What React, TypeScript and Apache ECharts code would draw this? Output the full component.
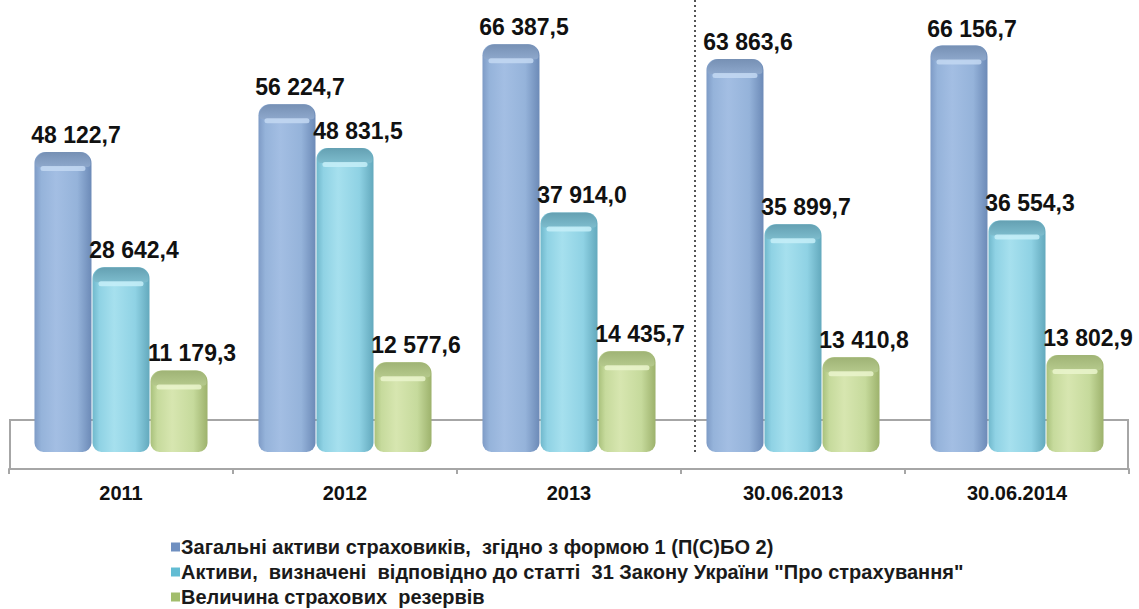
import React, { useEffect, useRef } from "react";
import * as echarts from "echarts";

const categories = ["2011", "2012", "2013", "30.06.2013", "30.06.2014"];
const seriesNames = [
  "Загальні активи страховиків,  згідно з формою 1 (П(С)БО 2)",
  "Активи,  визначені  відповідно до статті  31 Закону України \"Про страхування\"",
  "Величина страхових  резервів",
];
const totalAssets = [48122.7, 56224.7, 66387.5, 63863.6, 66156.7];
const art31Assets = [28642.4, 48831.5, 37914.0, 35899.7, 36554.3];
const reserves = [11179.3, 12577.6, 14435.7, 13410.8, 13802.9];

const palettes = [
  { legend: "#6f8fc0", edgeL: "#7e9bc6", mid: "#a3bee3", mid2: "#95b3da", edgeR: "#6c8ab7", capA: "#7690b4", capB: "#8ea8cc", hi: "#c3d8f2" },
  { legend: "#62bcd3", edgeL: "#70b8cc", mid: "#a6e0ee", mid2: "#8fd2e4", edgeR: "#63a9bd", capA: "#64a0b2", capB: "#7dbccd", hi: "#c6eef8" },
  { legend: "#a2bd6c", edgeL: "#a9c17c", mid: "#d7e6b0", mid2: "#c6da9c", edgeR: "#9db26c", capA: "#9fb375", capB: "#b5c98c", hi: "#eaf4cc" },
];

const fmt = (v: number) => {
  const [i, d] = v.toFixed(1).split(".");
  return i.replace(/\B(?=(\d{3})+(?!\d))/g, " ") + "," + d;
};

const makeSeries = (idx: number, values: number[]) => {
  const p = palettes[idx];
  return {
    type: "custom",
    name: seriesNames[idx],
    itemStyle: { color: p.legend },
    clip: false,
    z: 3,
    data: values.map((v, i) => [i, v]),
    renderItem: (params: any, api: any) => {
      const ci = api.value(0);
      const v = api.value(1);
      const top = api.coord([ci, v]);
      const zero = api.coord([ci, 0]);
      const band = api.size([1, 0])[0];
      const w = band * 0.2545;
      const cx = top[0] + (idx - 1) * band * 0.259;
      const x = cx - w / 2;
      const ty = top[1];
      const by = zero[1] + 15.5;
      const h = by - ty;
      const bodyGrad = new echarts.graphic.LinearGradient(0, 0, 1, 0, [
        { offset: 0, color: p.edgeL },
        { offset: 0.12, color: p.mid2 },
        { offset: 0.38, color: p.mid },
        { offset: 0.75, color: p.mid2 },
        { offset: 1, color: p.edgeR },
      ]);
      const capGrad = new echarts.graphic.LinearGradient(0, 0, 0, 1, [
        { offset: 0, color: p.capA },
        { offset: 1, color: p.capB },
      ]);
      return {
        type: "group",
        children: [
          {
            type: "rect",
            shape: { x, y: ty, width: w, height: h, r: [11, 11, 9, 9] },
            style: { fill: bodyGrad },
          },
          {
            type: "rect",
            shape: { x: x + 1, y: ty, width: w - 2, height: 15, r: [11, 11, 3, 3] },
            style: { fill: capGrad },
          },
          {
            type: "rect",
            shape: { x: x + 6, y: ty + 14, width: w - 12, height: 5, r: 2.5 },
            style: { fill: p.hi, opacity: 0.85 },
          },
          {
            type: "text",
            style: {
              text: fmt(v),
              x: cx + 13,
              y: ty - 17,
              align: "center",
              verticalAlign: "middle",
              fontFamily: "'Liberation Sans', Arial, sans-serif",
              fontWeight: "bold",
              fontSize: 23,
              fill: "#111111",
            },
          },
        ],
      };
    },
  };
};

export default function App() {
  const ref = useRef<HTMLDivElement>(null);
  useEffect(() => {
    if (!ref.current) return;
    const chart = echarts.init(ref.current, null, { renderer: "svg" });
    chart.setOption({
      animation: false,
      backgroundColor: "#ffffff",
      grid: { left: 9, right: 10, top: 11, bottom: 140 },
      xAxis: {
        type: "category",
        data: categories,
        axisLine: { onZero: false, lineStyle: { color: "#a6a6a6", width: 2 } },
        axisTick: { show: true, length: 5, lineStyle: { color: "#a6a6a6", width: 2 } },
        axisLabel: {
          margin: 14,
          fontFamily: "'Liberation Sans', Arial, sans-serif",
          fontWeight: "bold",
          fontSize: 20,
          color: "#111111",
        },
      },
      yAxis: {
        type: "value",
        min: -5500,
        max: 72000,
        show: false,
        splitLine: { show: false },
      },
      legend: {
        orient: "vertical",
        left: 171,
        top: 537,
        height: 100,
        padding: 0,
        itemWidth: 9,
        itemHeight: 9,
        itemGap: 5,
        icon: "rect",
        textStyle: {
          fontFamily: "'Liberation Sans', Arial, sans-serif",
          fontWeight: "bold",
          fontSize: 20,
          lineHeight: 20,
          color: "#1a1a1a",
          padding: [0, 0, 0, -4],
        },
        data: seriesNames,
      },
      graphic: [
        {
          type: "polyline",
          z: 0,
          silent: true,
          shape: { points: [[10, 469], [10, 420], [1128, 420], [1128, 469]] },
          style: { stroke: "#a6a6a6", lineWidth: 2, fill: "none" },
        },
        {
          type: "line",
          z: 0,
          silent: true,
          shape: { x1: 695, y1: 0, x2: 695, y2: 455 },
          style: { stroke: "#555555", lineWidth: 2, lineDash: [2, 3] },
        },
      ],
      series: [
        makeSeries(0, totalAssets),
        makeSeries(1, art31Assets),
        makeSeries(2, reserves),
      ],
    });
    return () => chart.dispose();
  }, []);
  return <div ref={ref} style={{ width: 1139, height: 609, position: "absolute", left: 0, top: 0 }} />;
}
